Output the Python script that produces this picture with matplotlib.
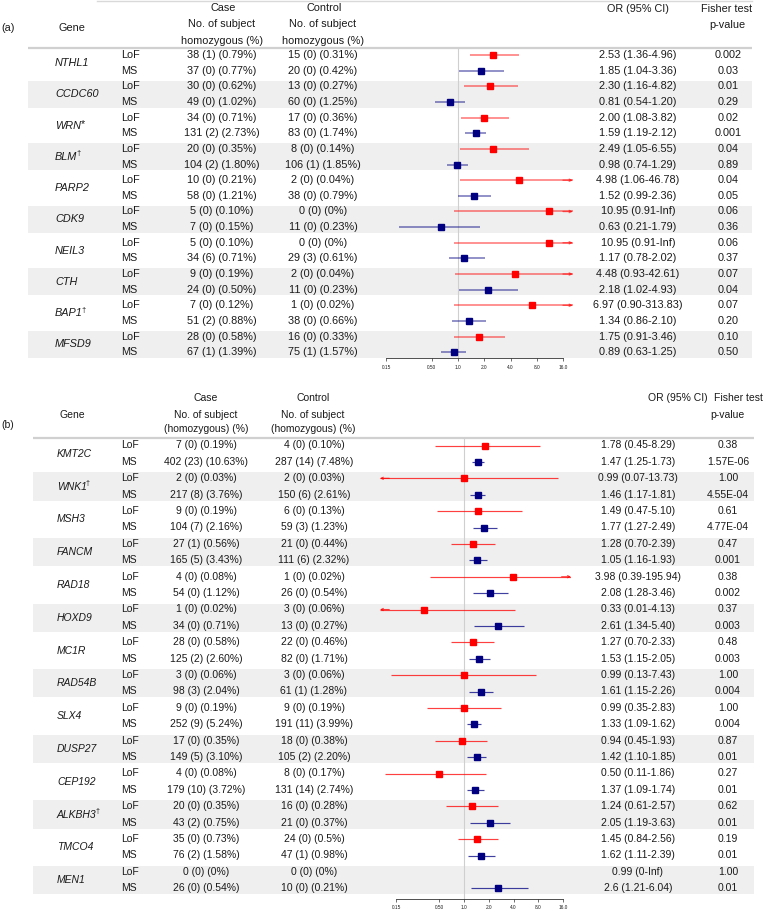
import numpy as np
import matplotlib
matplotlib.use("Agg")
import matplotlib.pyplot as plt

plt.rcParams['font.family'] = ['Liberation Sans', 'DejaVu Sans']

# ---------------- DATA: panel (a) ----------------
genes_a = ["NTHL1", "CCDC60", "WRN", "BLM", "PARP2", "CDK9", "NEIL3", "CTH", "BAP1", "MFSD9"]
marks_a = ["", "", "*", "\u2020", "", "", "", "", "\u2020", ""]
case_a = ["38 (1) (0.79%)", "37 (0) (0.77%)", "30 (0) (0.62%)", "49 (0) (1.02%)",
          "34 (0) (0.71%)", "131 (2) (2.73%)", "20 (0) (0.35%)", "104 (2) (1.80%)",
          "10 (0) (0.21%)", "58 (0) (1.21%)", "5 (0) (0.10%)", "7 (0) (0.15%)",
          "5 (0) (0.10%)", "34 (6) (0.71%)", "9 (0) (0.19%)", "24 (0) (0.50%)",
          "7 (0) (0.12%)", "51 (2) (0.88%)", "28 (0) (0.58%)", "67 (1) (1.39%)"]
ctrl_a = ["15 (0) (0.31%)", "20 (0) (0.42%)", "13 (0) (0.27%)", "60 (0) (1.25%)",
          "17 (0) (0.36%)", "83 (0) (1.74%)", "8 (0) (0.14%)", "106 (1) (1.85%)",
          "2 (0) (0.04%)", "38 (0) (0.79%)", "0 (0) (0%)", "11 (0) (0.23%)",
          "0 (0) (0%)", "29 (3) (0.61%)", "2 (0) (0.04%)", "11 (0) (0.23%)",
          "1 (0) (0.02%)", "38 (0) (0.66%)", "16 (0) (0.33%)", "75 (1) (1.57%)"]
ortxt_a = ["2.53 (1.36-4.96)", "1.85 (1.04-3.36)", "2.30 (1.16-4.82)", "0.81 (0.54-1.20)",
           "2.00 (1.08-3.82)", "1.59 (1.19-2.12)", "2.49 (1.05-6.55)", "0.98 (0.74-1.29)",
           "4.98 (1.06-46.78)", "1.52 (0.99-2.36)", "10.95 (0.91-Inf)", "0.63 (0.21-1.79)",
           "10.95 (0.91-Inf)", "1.17 (0.78-2.02)", "4.48 (0.93-42.61)", "2.18 (1.02-4.93)",
           "6.97 (0.90-313.83)", "1.34 (0.86-2.10)", "1.75 (0.91-3.46)", "0.89 (0.63-1.25)"]
p_a = ["0.002", "0.03", "0.01", "0.29", "0.02", "0.001", "0.04", "0.89", "0.04", "0.05",
       "0.06", "0.36", "0.06", "0.37", "0.07", "0.04", "0.07", "0.20", "0.10", "0.50"]
or_a = [2.53, 1.85, 2.30, 0.81, 2.00, 1.59, 2.49, 0.98, 4.98, 1.52,
        10.95, 0.63, 10.95, 1.17, 4.48, 2.18, 6.97, 1.34, 1.75, 0.89]
lo_a = [1.36, 1.04, 1.16, 0.54, 1.08, 1.19, 1.05, 0.74, 1.06, 0.99,
        0.91, 0.21, 0.91, 0.78, 0.93, 1.02, 0.90, 0.86, 0.91, 0.63]
hi_a = [4.96, 3.36, 4.82, 1.20, 3.82, 2.12, 6.55, 1.29, 46.78, 2.36,
        np.inf, 1.79, np.inf, 2.02, 42.61, 4.93, 313.83, 2.10, 3.46, 1.25]

# ---------------- DATA: panel (b) ----------------
genes_b = ["KMT2C", "WNK1", "MSH3", "FANCM", "RAD18", "HOXD9", "MC1R", "RAD54B",
           "SLX4", "DUSP27", "CEP192", "ALKBH3", "TMCO4", "MEN1"]
marks_b = ["", "\u2020", "", "", "", "", "", "", "", "", "", "\u2020", "", ""]
case_b = ["7 (0) (0.19%)", "402 (23) (10.63%)", "2 (0) (0.03%)", "217 (8) (3.76%)",
          "9 (0) (0.19%)", "104 (7) (2.16%)", "27 (1) (0.56%)", "165 (5) (3.43%)",
          "4 (0) (0.08%)", "54 (0) (1.12%)", "1 (0) (0.02%)", "34 (0) (0.71%)",
          "28 (0) (0.58%)", "125 (2) (2.60%)", "3 (0) (0.06%)", "98 (3) (2.04%)",
          "9 (0) (0.19%)", "252 (9) (5.24%)", "17 (0) (0.35%)", "149 (5) (3.10%)",
          "4 (0) (0.08%)", "179 (10) (3.72%)", "20 (0) (0.35%)", "43 (2) (0.75%)",
          "35 (0) (0.73%)", "76 (2) (1.58%)", "0 (0) (0%)", "26 (0) (0.54%)"]
ctrl_b = ["4 (0) (0.10%)", "287 (14) (7.48%)", "2 (0) (0.03%)", "150 (6) (2.61%)",
          "6 (0) (0.13%)", "59 (3) (1.23%)", "21 (0) (0.44%)", "111 (6) (2.32%)",
          "1 (0) (0.02%)", "26 (0) (0.54%)", "3 (0) (0.06%)", "13 (0) (0.27%)",
          "22 (0) (0.46%)", "82 (0) (1.71%)", "3 (0) (0.06%)", "61 (1) (1.28%)",
          "9 (0) (0.19%)", "191 (11) (3.99%)", "18 (0) (0.38%)", "105 (2) (2.20%)",
          "8 (0) (0.17%)", "131 (14) (2.74%)", "16 (0) (0.28%)", "21 (0) (0.37%)",
          "24 (0) (0.5%)", "47 (1) (0.98%)", "0 (0) (0%)", "10 (0) (0.21%)"]
ortxt_b = ["1.78 (0.45-8.29)", "1.47 (1.25-1.73)", "0.99 (0.07-13.73)", "1.46 (1.17-1.81)",
           "1.49 (0.47-5.10)", "1.77 (1.27-2.49)", "1.28 (0.70-2.39)", "1.05 (1.16-1.93)",
           "3.98 (0.39-195.94)", "2.08 (1.28-3.46)", "0.33 (0.01-4.13)", "2.61 (1.34-5.40)",
           "1.27 (0.70-2.33)", "1.53 (1.15-2.05)", "0.99 (0.13-7.43)", "1.61 (1.15-2.26)",
           "0.99 (0.35-2.83)", "1.33 (1.09-1.62)", "0.94 (0.45-1.93)", "1.42 (1.10-1.85)",
           "0.50 (0.11-1.86)", "1.37 (1.09-1.74)", "1.24 (0.61-2.57)", "2.05 (1.19-3.63)",
           "1.45 (0.84-2.56)", "1.62 (1.11-2.39)", "0.99 (0-Inf)", "2.6 (1.21-6.04)"]
p_b = ["0.38", "1.57E-06", "1.00", "4.55E-04", "0.61", "4.77E-04", "0.47", "0.001",
       "0.38", "0.002", "0.37", "0.003", "0.48", "0.003", "1.00", "0.004",
       "1.00", "0.004", "0.87", "0.01", "0.27", "0.01", "0.62", "0.01",
       "0.19", "0.01", "1.00", "0.01"]
# point estimates as drawn in the picture
or_b = [1.78, 1.47, 0.99, 1.46, 1.49, 1.77, 1.28, 1.45, 3.98, 2.08, 0.33, 2.61, 1.27, 1.53,
        0.99, 1.61, 0.99, 1.33, 0.94, 1.42, 0.50, 1.37, 1.24, 2.05, 1.45, 1.62, 0.99, 2.6]
lo_b = [0.45, 1.25, 0.07, 1.17, 0.47, 1.27, 0.70, 1.16, 0.39, 1.28, 0.01, 1.34, 0.70, 1.15,
        0.13, 1.15, 0.35, 1.09, 0.45, 1.10, 0.11, 1.09, 0.61, 1.19, 0.84, 1.11, 0.0, 1.21]
hi_b = [8.29, 1.73, 13.73, 1.81, 5.10, 2.49, 2.39, 1.93, 195.94, 3.46, 4.13, 5.40, 2.33, 2.05,
        7.43, 2.26, 2.83, 1.62, 1.93, 1.85, 1.86, 1.74, 2.57, 3.63, 2.56, 2.39, np.inf, 6.04]

types = ["LoF", "MS"]
ticks = [0.15, 0.5, 1.0, 2.0, 4.0, 8.0, 16.0]
tick_labels = ["0.15", "0.50", "1.0", "2.0", "4.0", "8.0", "16.0"]

# ---------------- FIGURE ----------------
W, H = 776, 909
fig = plt.figure(figsize=(W / 100, H / 100), dpi=100)
base = fig.add_axes([0, 0, 1, 1])
base.set_xlim(0, W)
base.set_ylim(H, 0)
base.axis("off")

TXT = "#1a1a1a"
BAND = "#efefef"
RED = "#ff0000"
NAVY = "#000080"


def panel(cfg):
    n = len(cfg["case"])
    y0, pitch = cfg["y0"], cfg["pitch"]
    rowy = [y0 + i * pitch for i in range(n)]
    fs = cfg["fs"]
    # bands
    for g in range(len(cfg["genes"])):
        if g % 2 == 1:
            yc = (rowy[2 * g] + rowy[2 * g + 1]) / 2
            hh = 0.86 * pitch
            base.fill_between([cfg["band_x"][0], cfg["band_x"][1]], yc - hh, yc + hh,
                              color=BAND, lw=0, zorder=0)
    # header line
    base.plot(cfg["band_x"], [cfg["hline"]] * 2, color="#d0d0d0", lw=1.6, zorder=1,
              solid_capstyle="butt")
    # headers
    for (x, y, s, ha) in cfg["headers"]:
        base.text(x, y, s, ha=ha, va="center", fontsize=fs, color=TXT)
    # gene names
    for g, name in enumerate(cfg["genes"]):
        yc = (rowy[2 * g] + rowy[2 * g + 1]) / 2
        t = base.text(cfg["gx"], yc, name, ha="left", va="center", fontsize=fs,
                      style="italic", color=TXT)
        m = cfg["marks"][g]
        if m == "*":
            base.annotate(m, xy=(0.98, 0.62), xycoords=t, ha="left",
                          va="center", fontsize=fs, color=TXT)
        elif m:
            base.annotate(m, xy=(0.97, 0.78), xycoords=t, ha="left",
                          va="center", fontsize=fs * 0.7, color=TXT)
    # rows
    cx = cfg["cols"]
    for i in range(n):
        base.text(cx[0], rowy[i], types[i % 2], ha="left", va="center", fontsize=fs, color=TXT)
        base.text(cx[1], rowy[i], cfg["case"][i], ha="center", va="center", fontsize=fs, color=TXT)
        base.text(cx[2], rowy[i], cfg["ctrl"][i], ha="center", va="center", fontsize=fs, color=TXT)
        base.text(cx[3], rowy[i], cfg["ortxt"][i], ha="center", va="center", fontsize=fs, color=TXT)
        base.text(cx[4], rowy[i], cfg["p"][i], ha="center", va="center", fontsize=fs, color=TXT)

    # forest axes
    xmin, xmax = cfg["xlim"]
    px_l = cfg["px_one"] + cfg["ppd"] * np.log2(xmin)
    px_r = cfg["px_one"] + cfg["ppd"] * np.log2(xmax)
    top, bot = cfg["hline"], cfg["axis_y"]
    ax = fig.add_axes([px_l / W, 1 - bot / H, (px_r - px_l) / W, (bot - top) / H])
    ax.set_facecolor("none")
    ax.set_xscale("log")
    ax.set_xlim(xmin, xmax)
    ax.set_ylim((bot - y0) / pitch, (top - y0) / pitch)
    ax.axvline(1.0, color="#cfcfcf", lw=0.8, zorder=1)
    for i in range(n):
        est, lo, hi = cfg["or"][i], cfg["lo"][i], cfg["hi"][i]
        if lo <= 0:
            continue
        col = RED if i % 2 == 0 else NAVY
        a = lo if lo > xmin else xmin
        b = hi if hi < xmax else xmax
        ax.plot([a, b], [i, i], color=col, lw=cfg["lw"], alpha=cfg["alpha"],
                solid_capstyle="butt", zorder=2)
        arrow = dict(arrowstyle="->", color=col, lw=cfg["lw"] * 0.9, alpha=cfg["alpha"],
                     mutation_scale=4, shrinkA=0, shrinkB=0)
        if hi > xmax:
            ax.annotate("", xy=(xmax, i), xytext=(xmax / 1.3, i), arrowprops=arrow)
        if lo < xmin:
            ax.annotate("", xy=(xmin, i), xytext=(xmin * 1.3, i), arrowprops=arrow)
        ax.plot([est], [i], marker="s", ms=4.4, color=col, mec=col, zorder=3)
    for s in ["top", "left", "right"]:
        ax.spines[s].set_visible(False)
    ax.spines["bottom"].set_bounds(ticks[0], ticks[-1])
    ax.spines["bottom"].set_linewidth(0.6)
    ax.spines["bottom"].set_color("#333333")
    ax.set_yticks([])
    ax.set_xticks(ticks)
    ax.set_xticklabels(tick_labels)
    ax.minorticks_off()
    ax.tick_params(axis="x", length=2.2, width=0.5, labelsize=3.4, pad=2.5,
                   color="#333333", labelcolor=TXT)


cfg_a = dict(genes=genes_a, marks=marks_a, case=case_a, ctrl=ctrl_a, ortxt=ortxt_a, p=p_a,
             **{"or": or_a}, lo=lo_a, hi=hi_a,
             y0=55.2, pitch=15.63, fs=7.8, band_x=(28, 752), hline=47.5, gx=55,
             cols=(121, 222, 323, 638, 728),
             headers=[(1, 28, "(a)", "left"), (72, 28, "Gene", "center"),
                      (223, 8, "Case", "center"), (222, 24, "No. of subject", "center"),
                      (222, 41, "homozygous (%)", "center"),
                      (324, 8, "Control", "center"), (323, 24, "No. of subject", "center"),
                      (323, 41, "homozygous (%)", "center"),
                      (638, 9, "OR (95% CI)", "center"), (727, 9, "Fisher test", "center"),
                      (727, 25, "p-value", "center")],
             xlim=(0.1, 20.8), px_one=458, ppd=26.25, axis_y=358, lw=1.1, alpha=0.55)

cfg_b = dict(genes=genes_b, marks=marks_b, case=case_b, ctrl=ctrl_b, ortxt=ortxt_b, p=p_b,
             **{"or": or_b}, lo=lo_b, hi=hi_b,
             y0=445.5, pitch=16.4, fs=7.5, band_x=(33, 754), hline=437.5, gx=57,
             cols=(121, 206, 314, 638, 728),
             headers=[(1, 425, "(b)", "left"), (72, 415, "Gene", "center"),
                      (206, 398, "Case", "center"), (206, 415, "No. of subject", "center"),
                      (206, 429, "(homozygous) (%)", "center"),
                      (313, 398, "Control", "center"), (313, 415, "No. of subject", "center"),
                      (313, 429, "(homozygous) (%)", "center"),
                      (678, 398, "OR (95% CI)", "center"), (738, 398, "Fisher test", "center"),
                      (727, 415, "p-value", "center")],
             xlim=(0.095, 20.0), px_one=464, ppd=24.75, axis_y=898.5, lw=0.85, alpha=0.75)

# thin top border of panel (a)
base.plot([97, 752], [1, 1], color="#d9d9d9", lw=1.0, zorder=1)

panel(cfg_a)
panel(cfg_b)

fig.savefig("out.png", dpi=100)
